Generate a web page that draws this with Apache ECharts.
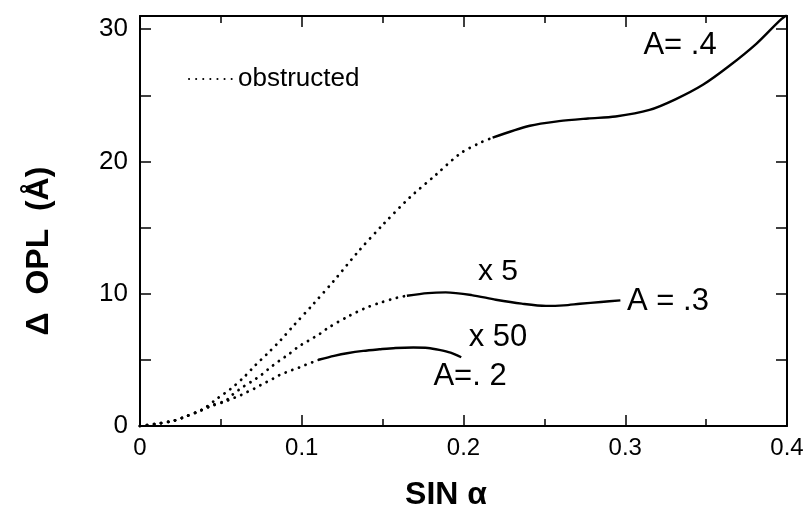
<!DOCTYPE html>
<html>
<head>
<meta charset="utf-8">
<title>delta OPL vs sin alpha</title>
<script src="https://cdn.jsdelivr.net/npm/echarts@6/dist/echarts.min.js"></script>
<style>
  html, body { margin: 0; padding: 0; background: #fff; }
  #chart { width: 807px; height: 513px; }
</style>
</head>
<body>
<div id="chart"></div>
<script>
// 数据
var xTicks = [0, 0.1, 0.2, 0.3, 0.4];
var yTicks = [0, 10, 20, 30];

// A = .4 obstructed part (dotted) and solid part
var a4DotX = [0, 0.012, 0.021, 0.027, 0.038, 0.048, 0.056, 0.064, 0.071, 0.079, 0.087, 0.095, 0.107, 0.12, 0.135, 0.15, 0.167, 0.183, 0.198, 0.21, 0.218];
var a4DotY = [0, 0.2, 0.4, 0.66, 1.2, 2.1, 2.8, 3.66, 4.55, 5.5, 6.5, 7.6, 9.2, 11.0, 13.2, 15.2, 17.3, 19.0, 20.6, 21.4, 21.8];
var a4X = [0.218, 0.241, 0.259, 0.277, 0.294, 0.315, 0.331, 0.348, 0.364, 0.381, 0.395, 0.4];
var a4Y = [21.8, 22.7, 23.05, 23.25, 23.4, 23.9, 24.7, 25.8, 27.2, 28.9, 30.6, 31.1];

// A = .3 (x5)
var a3DotX = [0, 0.012, 0.021, 0.027, 0.038, 0.044, 0.053, 0.057, 0.063, 0.069, 0.075, 0.08, 0.086, 0.092, 0.098, 0.104, 0.111, 0.116, 0.129, 0.139, 0.148, 0.159, 0.165];
var a3DotY = [0, 0.2, 0.4, 0.66, 1.2, 1.55, 1.92, 2.35, 2.9, 3.36, 3.86, 4.37, 4.92, 5.43, 6.0, 6.44, 6.95, 7.4, 8.3, 8.9, 9.3, 9.7, 9.85];
var a3X = [0.165, 0.178, 0.189, 0.205, 0.22, 0.236, 0.251, 0.262, 0.272, 0.285, 0.297];
var a3Y = [9.85, 10.05, 10.1, 9.9, 9.55, 9.25, 9.08, 9.12, 9.24, 9.38, 9.5];

// A = .2 (x50)
var a2DotX = [0, 0.012, 0.021, 0.027, 0.038, 0.044, 0.0525, 0.0566, 0.0617, 0.0659, 0.071, 0.0747, 0.0788, 0.0827, 0.0864, 0.0905, 0.0942, 0.0984, 0.1023, 0.1066, 0.111];
var a2DotY = [0, 0.2, 0.4, 0.66, 1.2, 1.5, 1.84, 2.05, 2.3, 2.55, 2.85, 3.1, 3.36, 3.61, 3.86, 4.07, 4.24, 4.42, 4.62, 4.82, 5.03];
var a2X = [0.111, 0.12, 0.128, 0.138, 0.148, 0.158, 0.169, 0.178, 0.185, 0.192, 0.1986];
var a2Y = [5.03, 5.3, 5.5, 5.68, 5.8, 5.9, 5.93, 5.9, 5.76, 5.55, 5.2];

var FONT = 'Liberation Sans, Arial, sans-serif';

function pairs(xs, ys) {
    return xs.map(function (x, i) { return [x, ys[i]]; });
}

function dotted(xs, ys) {
    return {
        name: 'obstructed', type: 'line', data: pairs(xs, ys),
        xAxisIndex: 0, yAxisIndex: 0,
        symbol: 'none', smooth: 0.3, silent: true,
        itemStyle: { color: '#000' },
        lineStyle: { color: '#000', width: 2.8, type: [0.1, 7], cap: 'round' }
    };
}

function solid(name, xs, ys) {
    return {
        name: name, type: 'line', data: pairs(xs, ys),
        xAxisIndex: 0, yAxisIndex: 0,
        symbol: 'none', smooth: 0.3, silent: true,
        itemStyle: { color: '#000' },
        lineStyle: { color: '#000', width: 2.4 }
    };
}

function label(text, x, y, size, weight) {
    return {
        type: 'text', x: x, y: y, silent: true,
        style: { text: text, fill: '#000', font: (weight || 'normal') + ' ' + (size || 26) + 'px ' + FONT, align: 'center', verticalAlign: 'middle' }
    };
}

var axisLineStyle = { show: true, onZero: false, lineStyle: { color: '#000', width: 2 } };
var tickStyle = { show: true, inside: true, length: 11, lineStyle: { color: '#000', width: 1.5 } };
var minorStyle = { show: true, splitNumber: 2, length: 7, lineStyle: { color: '#000', width: 1.5 } };

var chart = echarts.init(document.getElementById('chart'));

var option = {
    backgroundColor: '#fff',
    animation: false,
    grid: { left: 140, right: 20, top: 16, bottom: 87 },
    legend: {
        data: ['obstructed'], left: 183, top: 61,
        itemWidth: 44, itemHeight: 14, selectedMode: false,
        itemStyle: { opacity: 0 },
        textStyle: { color: '#000', fontSize: 26, fontFamily: FONT }
    },
    xAxis: [{
        type: 'value', position: 'bottom', min: 0, max: 0.4, interval: 0.1,
        axisLine: axisLineStyle, axisTick: tickStyle, minorTick: minorStyle,
        splitLine: { show: false },
        axisLabel: {
            color: '#000', fontSize: 24, fontFamily: FONT, margin: 10,
            formatter: function (v) {
                for (var i = 0; i < xTicks.length; i++) {
                    if (Math.abs(v - xTicks[i]) < 1e-6) return xTicks[i] === 0 ? '0' : xTicks[i].toFixed(1);
                }
                return '';
            }
        }
    }, {
        type: 'value', position: 'top', min: 0, max: 0.4, interval: 0.1,
        axisLine: axisLineStyle, axisTick: tickStyle, minorTick: minorStyle,
        splitLine: { show: false }, axisLabel: { show: false }
    }],
    yAxis: [{
        type: 'value', position: 'left', min: 0, max: 31, interval: 5,
        axisLine: axisLineStyle, axisTick: tickStyle,
        splitLine: { show: false },
        axisLabel: {
            color: '#000', fontSize: 26, fontFamily: FONT, margin: 12,
            formatter: function (v) { return yTicks.indexOf(v) >= 0 ? String(v) : ''; }
        }
    }, {
        type: 'value', position: 'right', min: 0, max: 31, interval: 5,
        axisLine: axisLineStyle, axisTick: tickStyle,
        splitLine: { show: false }, axisLabel: { show: false }
    }],
    graphic: [
        // axis titles
        label('SIN \u03b1', 446, 495, 32, 'bold'),
        {
            type: 'text', x: 39, y: 251, rotation: Math.PI / 2, silent: true,
            style: { text: '\u0394  OPL  (\u00c5)', fill: '#000', font: 'bold 32px ' + FONT, align: 'center', verticalAlign: 'middle' }
        },
        // curve annotations
        label('A= .4', 680, 45, 31),
        label('x 5', 498, 272, 30),
        label('A = .3', 668, 301, 31),
        label('x 50', 498, 337, 31),
        label('A=. 2', 470, 376, 31)
    ],
    series: [
        dotted(a4DotX, a4DotY),
        dotted(a3DotX, a3DotY),
        dotted(a2DotX, a2DotY),
        solid('A=.4', a4X, a4Y),
        solid('A=.3', a3X, a3Y),
        solid('A=.2', a2X, a2Y)
    ]
};

chart.setOption(option);
</script>
</body>
</html>
